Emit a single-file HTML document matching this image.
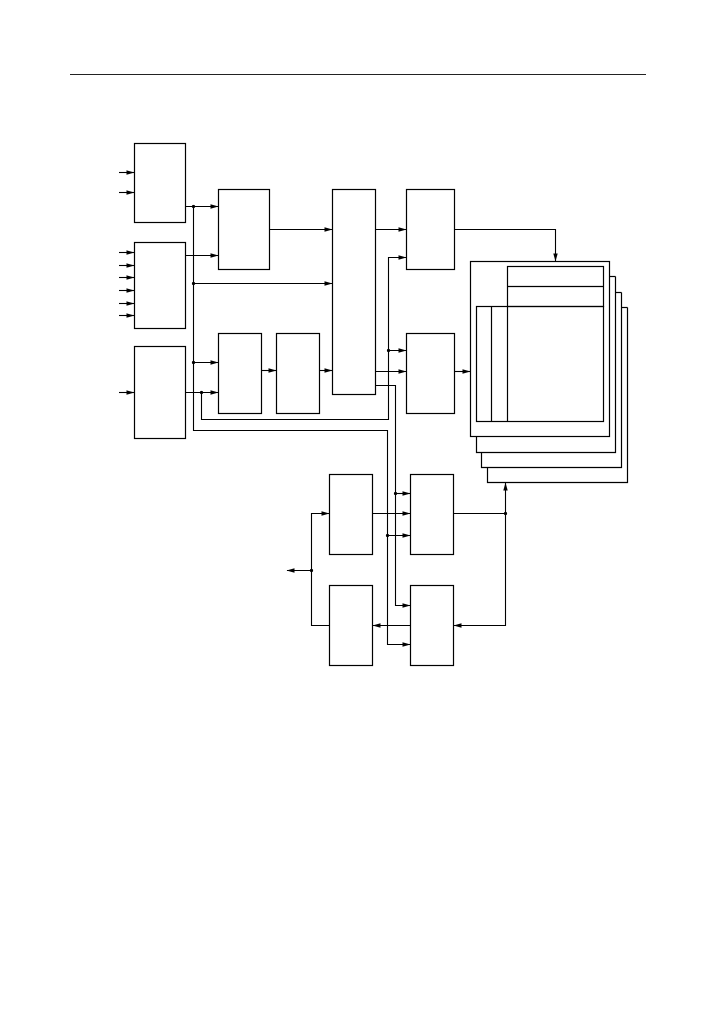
<!DOCTYPE html>
<html><head><meta charset="utf-8"><style>html,body{margin:0;padding:0;background:#fff}svg{display:block}</style></head>
<body>
<svg width="717" height="1013" viewBox="0 0 717 1013" xmlns="http://www.w3.org/2000/svg">
<defs>
<marker id="a" markerWidth="8" markerHeight="6" refX="7.5" refY="3" orient="auto" markerUnits="userSpaceOnUse"><path d="M0,0.8 L8,3 L0,5.2 z" fill="#000"/></marker>
</defs>
<line x1="70" y1="74.5" x2="646" y2="74.5" stroke="#222" stroke-width="1"/>
<g fill="none" stroke="#000" stroke-width="1.2">
<!-- boxes -->
<rect x="134.5" y="143.5" width="51" height="79"/>
<rect x="134.5" y="242.5" width="51" height="86"/>
<rect x="134.5" y="346.5" width="51" height="92"/>
<rect x="218.5" y="189.5" width="51" height="80"/>
<rect x="332.5" y="189.5" width="43" height="205"/>
<rect x="218.5" y="333.5" width="43" height="80"/>
<rect x="276.5" y="333.5" width="43" height="80"/>
<rect x="406.5" y="189.5" width="48" height="80"/>
<rect x="406.5" y="333.5" width="48" height="80"/>
<rect x="329.5" y="474.5" width="43" height="80"/>
<rect x="410.5" y="474.5" width="43" height="80"/>
<rect x="329.5" y="585.5" width="43" height="80"/>
<rect x="410.5" y="585.5" width="43" height="80"/>
<!-- stack -->
<polyline points="615.5,276.5 615.5,452.5 476.5,452.5 476.5,437"/>
<polyline points="621.5,292.5 621.5,467.5 481.5,467.5 481.5,452.5"/>
<polyline points="627.5,307.5 627.5,482.5 487.5,482.5 487.5,467.5"/>
<line x1="609.5" y1="276.5" x2="615.5" y2="276.5"/>
<line x1="615.5" y1="292.5" x2="621.5" y2="292.5"/>
<line x1="621.5" y1="307.5" x2="627.5" y2="307.5"/>
<rect x="470.5" y="261.5" width="139" height="175" fill="#fff"/>
<rect x="507.5" y="266.5" width="96" height="40"/>
<line x1="507.5" y1="286.5" x2="603.5" y2="286.5"/>
<rect x="476.5" y="306.5" width="127" height="115"/>
<line x1="491.5" y1="306.5" x2="491.5" y2="421.5"/>
<line x1="507.5" y1="306.5" x2="507.5" y2="421.5"/>
</g>
<g fill="none" stroke="#000" stroke-width="1.1" marker-end="url(#a)">
<!-- inputs -->
<line x1="119" y1="172.5" x2="134" y2="172.5"/>
<line x1="119" y1="192.5" x2="134" y2="192.5"/>
<line x1="119" y1="252.5" x2="134" y2="252.5"/>
<line x1="119" y1="265.5" x2="134" y2="265.5"/>
<line x1="119" y1="277.5" x2="134" y2="277.5"/>
<line x1="119" y1="290.5" x2="134" y2="290.5"/>
<line x1="119" y1="303.5" x2="134" y2="303.5"/>
<line x1="119" y1="315.5" x2="134" y2="315.5"/>
<line x1="119" y1="392.5" x2="134" y2="392.5"/>
<line x1="185.5" y1="206.5" x2="218" y2="206.5"/>
<line x1="185.5" y1="255.5" x2="218" y2="255.5"/>
<line x1="193.5" y1="283.5" x2="332" y2="283.5"/>
<line x1="193.5" y1="362.5" x2="218" y2="362.5"/>
<line x1="185.5" y1="392.5" x2="218" y2="392.5"/>
<line x1="269.5" y1="229.5" x2="332" y2="229.5"/>
<line x1="261.5" y1="370.5" x2="276" y2="370.5"/>
<line x1="319.5" y1="370.5" x2="332" y2="370.5"/>
<line x1="375.5" y1="229.5" x2="406" y2="229.5"/>
<line x1="375.5" y1="371.5" x2="406" y2="371.5"/>
<line x1="388.5" y1="350.5" x2="406" y2="350.5"/>
<polyline points="201.5,392.5 201.5,419.5 388.5,419.5 388.5,257.5 406,257.5"/>
<line x1="454.5" y1="371.5" x2="470" y2="371.5"/>
<polyline points="454.5,229.5 555.5,229.5 555.5,261"/>
<polyline points="193.5,206.5 193.5,430.5 387.5,430.5 387.5,644.5 410,644.5"/>
<polyline points="375.5,385.5 395.5,385.5 395.5,605.5 410,605.5"/>
<line x1="395.5" y1="493.5" x2="410" y2="493.5"/>
<line x1="387.5" y1="535.5" x2="410" y2="535.5"/>
<line x1="372.5" y1="513.5" x2="410" y2="513.5"/>
<polyline points="453.5,513.5 505.5,513.5 505.5,483"/>
<polyline points="505.5,513.5 505.5,625.5 454,625.5"/>
<line x1="410.5" y1="625.5" x2="373" y2="625.5"/>
<polyline points="329.5,625.5 311.5,625.5 311.5,513.5 329,513.5"/>
<line x1="311.5" y1="570.5" x2="287" y2="570.5"/>
</g>
<g fill="#000">
<circle cx="193.5" cy="206.5" r="1.6"/><circle cx="193.5" cy="283.5" r="1.6"/><circle cx="193.5" cy="362.5" r="1.6"/>
<circle cx="201.5" cy="392.5" r="1.6"/><circle cx="388.5" cy="350.5" r="1.6"/>
<circle cx="395.5" cy="493.5" r="1.6"/><circle cx="387.5" cy="535.5" r="1.6"/>
<circle cx="505.5" cy="513.5" r="1.6"/><circle cx="311.5" cy="570.5" r="1.6"/>
</g>
</svg>
</body></html>
